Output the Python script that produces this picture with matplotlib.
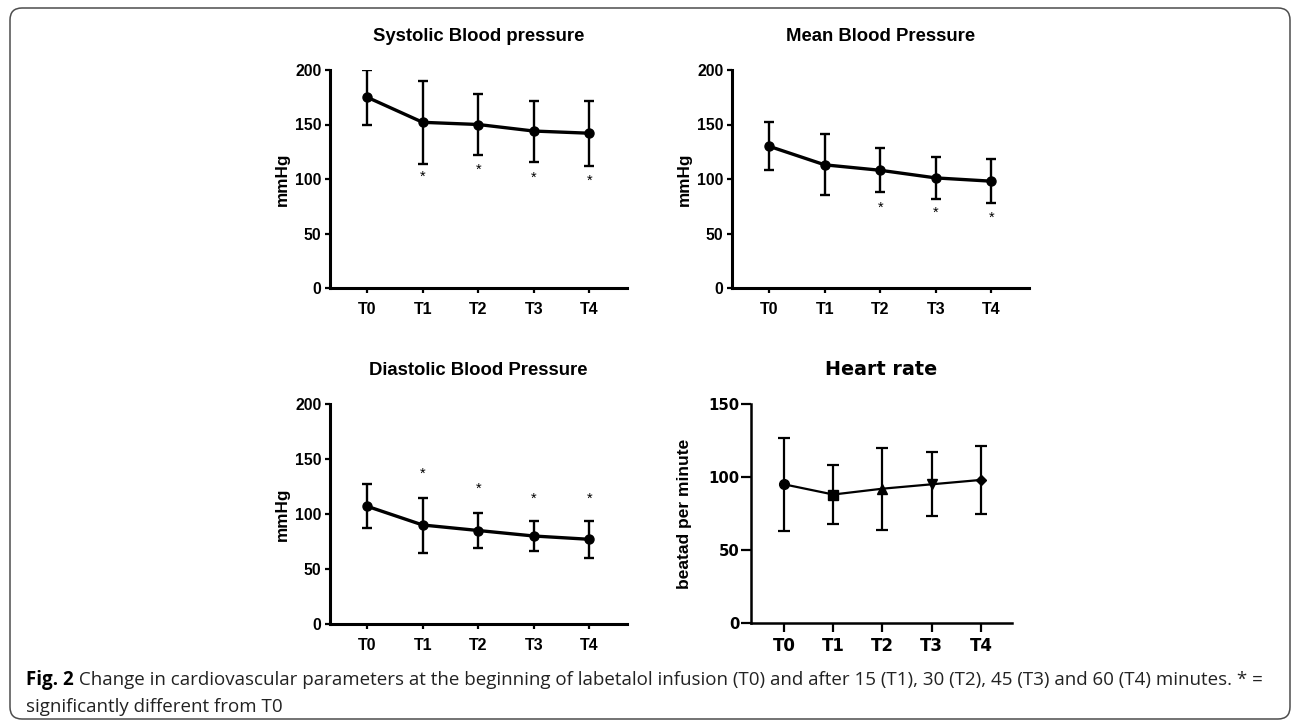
import matplotlib
matplotlib.use("Agg")
import matplotlib.pyplot as plt
from matplotlib.patches import FancyBboxPatch
from matplotlib.transforms import IdentityTransform

W, H = 1292, 722

times = ["T0", "T1", "T2", "T3", "T4"]

sys_mean = [175, 152, 150, 144, 142]
sys_sd = [25, 38, 28, 28, 30]
sys_star = [None, 102, 108, 101, 98]

map_mean = [130, 113, 108, 101, 98]
map_sd = [22, 28, 20, 19, 20]
map_star = [None, None, 74, 69, 64]

dia_mean = [107, 90, 85, 80, 77]
dia_sd = [20, 25, 16, 14, 17]
dia_star = [None, 137, 123, 114, 114]

hr_mean = [95, 88, 92, 95, 98]
hr_sd = [32, 20, 28, 22, 23]
hr_markers = ["o", "s", "^", "v", "D"]

caption_bold = "Fig. 2"
caption_1 = (" Change in cardiovascular parameters at the beginning of labetalol infusion (T0) "
             "and after 15 (T1), 30 (T2), 45 (T3) and 60 (T4) minutes. * =")
caption_2 = "significantly different from T0"

ARIAL = ["Liberation Sans", "DejaVu Sans"]
NARROW = ["Liberation Sans Narrow", "Liberation Sans", "DejaVu Sans"]

fig = plt.figure(figsize=(W / 100, H / 100), dpi=100)


def ax_at(x0, y0, x1, y1):
    return fig.add_axes([x0 / W, 1 - y1 / H, (x1 - x0) / W, (y1 - y0) / H])


def bp_panel(ax, title, mean, sd, star):
    x = range(len(times))
    ax.errorbar(x, mean, yerr=sd, color="black", lw=2.4, marker="o", ms=6.5,
                elinewidth=1.7, capsize=3.8, capthick=1.7)
    for i, s in enumerate(star):
        if s is not None:
            ax.text(i, s, "*", ha="center", va="center", fontsize=10.5,
                    family=ARIAL)
    ax.set_xlim(-0.67, 4.68)
    ax.set_ylim(0, 200)
    ax.set_yticks([0, 50, 100, 150, 200])
    ax.set_xticks(list(x))
    ax.set_xticklabels(times, family=NARROW, fontweight="bold", fontsize=11.5)
    for t in ax.get_yticklabels():
        t.set_family(ARIAL)
        t.set_fontweight("bold")
        t.set_fontsize(11.3)
    for s in ["top", "right"]:
        ax.spines[s].set_visible(False)
    for s in ["left", "bottom"]:
        ax.spines[s].set_linewidth(2.2)
    ax.tick_params(axis="both", length=3.8, width=1.6, color="black")
    ax.tick_params(axis="x", pad=6.2)
    ax.tick_params(axis="y", pad=2.5)
    ax.set_title(title, family=ARIAL, fontweight="bold", fontsize=13.3, pad=21)
    ax.set_ylabel("mmHg", family=ARIAL, fontweight="bold", fontsize=12.3)
    ax.yaxis.set_label_coords(-0.135, 0.5)


bp_panel(ax_at(330, 70, 627, 288), "Systolic Blood pressure", sys_mean, sys_sd, sys_star)
bp_panel(ax_at(732, 70, 1029, 288), "Mean Blood Pressure", map_mean, map_sd, map_star)
bp_panel(ax_at(330, 404, 627, 624), "Diastolic Blood Pressure", dia_mean, dia_sd, dia_star)

# heart rate panel, drawn in a different style
ax = ax_at(751, 404, 1012, 623)
x = list(range(len(times)))
ax.plot(x, hr_mean, color="black", lw=1.6)
for i in x:
    ax.errorbar(i, hr_mean[i], yerr=hr_sd[i], color="black", marker=hr_markers[i],
                ms=7 if hr_markers[i] != "D" else 5, elinewidth=1.6,
                capsize=4.5, capthick=1.6)
ax.set_xlim(-0.67, 4.63)
ax.set_ylim(0, 150)
ax.set_yticks([0, 50, 100, 150])
ax.set_xticks(x)
ax.set_xticklabels(times, family="DejaVu Sans", fontweight="bold", fontsize=12)
for t in ax.get_yticklabels():
    t.set_family("DejaVu Sans")
    t.set_fontweight("bold")
    t.set_fontsize(10.7)
for s in ["top", "right"]:
    ax.spines[s].set_visible(False)
for s in ["left", "bottom"]:
    ax.spines[s].set_linewidth(1.8)
ax.tick_params(axis="y", length=7.5, width=1.6, pad=1)
ax.tick_params(axis="x", length=6.5, width=1.6, pad=3.5)
ax.set_title("Heart rate", family="DejaVu Sans", fontweight="bold", fontsize=13.8, pad=21)
ax.set_ylabel("beatad per minute", family=ARIAL, fontweight="bold", fontsize=12.5)
ax.yaxis.set_label_coords(-0.226, 0.5)

# rounded frame around the figure
frame = FancyBboxPatch((10, H - 719), 1280, 711, boxstyle="round,pad=0,rounding_size=12",
                       transform=IdentityTransform(), fill=False, edgecolor="#4d4d4d", lw=1.1)
fig.add_artist(frame)

# caption
CAP = ["Open Sans", "DejaVu Sans"]
fs = 13.5
t1 = fig.text(26 / W, 1 - 685 / H, caption_bold, family=CAP, fontweight="bold",
              fontsize=fs, va="baseline", ha="left")
r = fig.canvas.get_renderer()
bb = t1.get_window_extent(r)
fig.text(bb.x1 / W, 1 - 685 / H, caption_1, family=CAP, fontsize=fs,
         va="baseline", ha="left", color="#222222")
fig.text(26 / W, 1 - 712 / H, caption_2, family=CAP, fontsize=fs,
         va="baseline", ha="left", color="#222222")

fig.savefig("out.png", dpi=100)
